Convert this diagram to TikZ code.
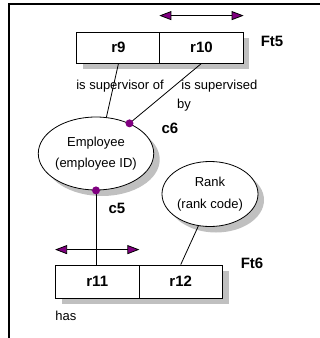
\documentclass[tikz,border=0pt]{standalone}
\usepackage{fontspec}
\setmainfont{Liberation Sans}
\usetikzlibrary{arrows.meta,shapes.geometric,shadows}
\definecolor{roleviolet}{RGB}{128,0,128}
\definecolor{shadowgrey}{RGB}{192,192,192}
\begin{document}
\begin{tikzpicture}[x=1pt,y=-1pt,line width=0.8pt,
  boxshadow/.style={drop shadow={shadow xshift=6pt,shadow yshift=-6pt,fill=shadowgrey,opacity=1,draw=none}},
  role/.style={draw,fill=white,minimum width=83.5pt,minimum height=31pt,inner sep=0pt,
    font=\bfseries\fontsize{15}{17}\selectfont,boxshadow},
  entity/.style={ellipse,draw,fill=white,inner sep=0pt,align=center,
    font=\fontsize{13}{21.5}\selectfont,boxshadow},
  lbl/.style={inner sep=0pt,font=\fontsize{13}{15}\selectfont},
  tag/.style={inner sep=0pt,font=\bfseries\fontsize{15}{17}\selectfont},
  uniq/.style={{Triangle[length=12pt,width=9pt,fill=roleviolet]}-{Triangle[length=12pt,width=9pt,fill=roleviolet]}},
  dot/.style={fill=roleviolet}]
\useasboundingbox (0,0) rectangle (320,338);
% frame
\draw[line width=2pt] (9,338) -- (9,4) -- (320,4);

% fact type Ft5
\node[role] (r9) at (118.5,47.5) {r9};
\node[role] (r10) at (201.5,47.5) {r10};
\node[tag] (ft5) at (272,41) {Ft5};
\coordinate (u5l) at ([yshift=16pt]r10.north west);
\coordinate (u5r) at ([yshift=16pt]r10.north east);
\draw[uniq] (u5l) -- (u5r);

% fact type Ft6
\node[role,minimum height=33pt] (r11) at (97.25,281.5) {r11};
\node[role,minimum height=33pt] (r12) at (180.75,281.5) {r12};
\node[tag] (ft6) at (252,263) {Ft6};
\coordinate (u6l) at ([yshift=15pt]r11.north west);
\coordinate (u6r) at ([yshift=15pt]r11.north east);
\draw[uniq] (u6l) -- (u6r);

% entity types
\node[entity,minimum width=112pt,minimum height=73pt] (emp) at (96,153.5) {Employee\\(employee ID)};
\node[entity,minimum width=96pt,minimum height=65pt] (rank) at (210,194) {Rank\\(rank code)};

% role connectors
\draw (r9.south) -- (emp.74);
\draw (r10.south) -- (emp.42);
\draw (emp.south) -- (emp.south |- r11.north);
\draw (rank.250) -- (r12.north);

% mandatory role dots
\fill[dot] (emp.42) circle (4pt);
\fill[dot] (emp.south) circle (4pt);
\node[tag] (c6) at (170,128) {c6};
\node[tag] (c5) at (117,208) {c5};

% reading labels
\node[lbl] (rd9) at (120,86) {is supervisor of};
\node[lbl,anchor=west] (rd10) at (181,86) {is supervised};
\node[lbl] (rd10b) at (184,105) {by};
\node[lbl,anchor=west] (rd11) at (55,316) {has};
\end{tikzpicture}
\end{document}
